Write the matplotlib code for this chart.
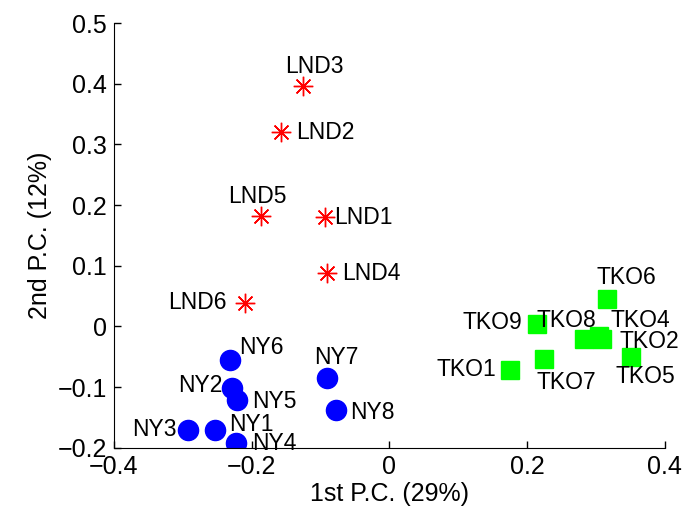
import matplotlib
matplotlib.use("Agg")
import matplotlib.pyplot as plt

plt.rcParams['font.family'] = ['Liberation Sans', 'DejaVu Sans']

# London samples
lnd_names = ['LND1', 'LND2', 'LND3', 'LND4', 'LND5', 'LND6']
lnd_x = [-0.093, -0.157, -0.125, -0.090, -0.187, -0.209]
lnd_y = [0.180, 0.320, 0.396, 0.088, 0.182, 0.039]

# New York samples
ny_names = ['NY1', 'NY2', 'NY3', 'NY4', 'NY5', 'NY6', 'NY7', 'NY8']
ny_x = [-0.253, -0.228, -0.292, -0.222, -0.221, -0.232, -0.090, -0.077]
ny_y = [-0.170, -0.101, -0.170, -0.192, -0.121, -0.055, -0.085, -0.137]

# Tokyo samples
tko_names = ['TKO1', 'TKO2', 'TKO4', 'TKO5', 'TKO6', 'TKO7', 'TKO8', 'TKO9']
tko_x = [0.176, 0.309, 0.305, 0.351, 0.316, 0.225, 0.283, 0.215]
tko_y = [-0.071, -0.021, -0.016, -0.050, 0.045, -0.054, -0.020, 0.004]

# label placement (pixel offset from point, horizontal alignment)
label_pos = {
    'LND1': (9, 0, 'left'), 'LND2': (15, 0, 'left'), 'LND3': (11, 20, 'center'),
    'LND4': (15, 0, 'left'), 'LND5': (-3, 20, 'center'), 'LND6': (-19, 0, 'right'),
    'NY1': (14, 5, 'left'), 'NY2': (-10, 2, 'right'), 'NY3': (-12, 0, 'right'),
    'NY4': (16, -1, 'left'), 'NY5': (15, -2, 'left'), 'NY6': (10, 12, 'left'),
    'NY7': (9, 21, 'center'), 'NY8': (14, -3, 'left'),
    'TKO1': (-14, 0, 'right'), 'TKO2': (17, -2, 'left'), 'TKO4': (11, 16, 'left'),
    'TKO5': (14, -20, 'center'), 'TKO6': (19, 22, 'center'), 'TKO7': (22, -23, 'center'),
    'TKO8': (-18, 18, 'center'), 'TKO9': (-15, 2, 'right'),
}

fig = plt.figure(figsize=(6.86, 5.13), dpi=100)
ax = fig.add_axes([0.166, 0.127, 0.803, 0.828])

# matlab style asterisk: 8 arms
ax.plot(lnd_x, lnd_y, color='red', marker=(8, 2, 0), markersize=14,
        markeredgewidth=1.0, linestyle='none')
ax.plot(ny_x, ny_y, 'o', color='#0000ff', markersize=14.5, linestyle='none')
ax.plot(tko_x, tko_y, 's', color='#00ff00', markersize=12.5, linestyle='none')

for names, xs, ys in [(lnd_names, lnd_x, lnd_y), (ny_names, ny_x, ny_y),
                      (tko_names, tko_x, tko_y)]:
    for n, x, y in zip(names, xs, ys):
        dx, dy, ha = label_pos[n]
        ax.annotate(n, (x, y), xytext=(dx, dy), textcoords='offset pixels',
                    ha=ha, va='center', fontsize=16.5)

ax.set_xlim(-0.4, 0.4)
ax.set_ylim(-0.2, 0.5)
ax.set_xticks([-0.4, -0.2, 0, 0.2, 0.4])
ax.set_xticklabels(['\u22120.4', '\u22120.2', '0', '0.2', '0.4'])
ax.set_yticks([-0.2, -0.1, 0, 0.1, 0.2, 0.3, 0.4, 0.5])
ax.set_yticklabels(['\u22120.2', '\u22120.1', '0', '0.1', '0.2', '0.3', '0.4', '0.5'])
ax.tick_params(direction='in', length=5, width=1, labelsize=18, pad=5)
ax.spines['top'].set_visible(False)
ax.spines['right'].set_visible(False)
ax.set_xlabel('1st P.C. (29%)', fontsize=18, labelpad=2)
ax.set_ylabel('2nd P.C. (12%)', fontsize=18, labelpad=4)

fig.savefig('out.png', dpi=100)
